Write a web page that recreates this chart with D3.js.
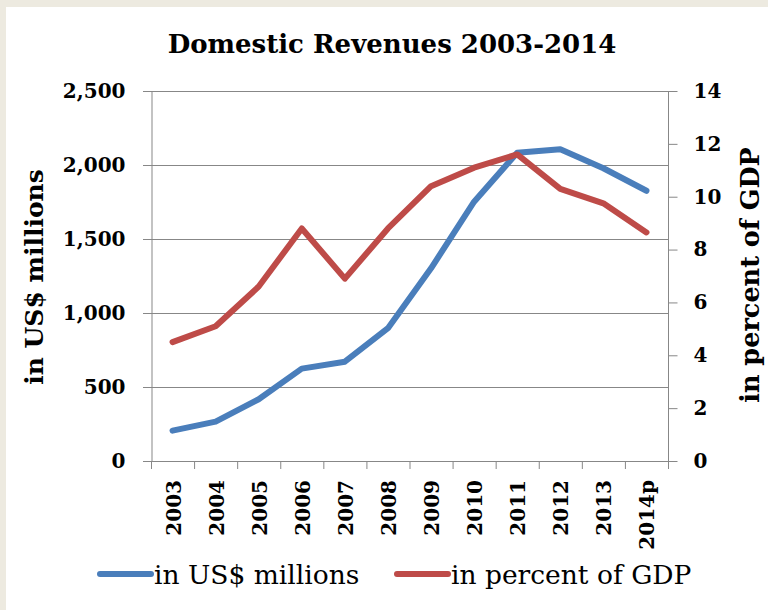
<!DOCTYPE html>
<html>
<head>
<meta charset="utf-8">
<script src="https://cdn.jsdelivr.net/npm/d3@7/dist/d3.min.js"></script>
<style>
  body { margin: 0; background: #fff; }
  svg text { font-family: "DejaVu Serif", serif; fill: #000; }
</style>
</head>
<body>
<script>
'use strict';

// data
const years = ["2003", "2004", "2005", "2006", "2007", "2008", "2009", "2010", "2011", "2012", "2013", "2014p"];
const revenueUSD = [205, 266, 417, 624, 671, 897, 1302, 1752, 2083, 2106, 1978, 1826];
const revenuePctGDP = [4.5, 5.1, 6.6, 8.8, 6.9, 8.8, 10.4, 11.1, 11.6, 10.3, 9.75, 8.65];
const leftTicks = [0, 500, 1000, 1500, 2000, 2500];
const rightTicks = [0, 2, 4, 6, 8, 10, 12, 14];
const seriesNames = ["in US$ millions", "in percent of GDP"];

(function() {

  const width = 768, height = 610;
  const plotLeft = 151, plotRight = 668, plotTop = 91, plotBottom = 461;
  const blue = "#4a7ebb", red = "#be4b48", grid = "#878787";

  const svg = d3.select('body')
    .append('svg')
    .attr('width', width)
    .attr('height', height);

  // beige frame on the top and left like the screenshot
  svg.append('rect').attr('width', width).attr('height', height).attr('fill', '#edeae0');
  svg.append('rect').attr('x', 6).attr('y', 7).attr('width', width).attr('height', height).attr('fill', '#fff');

  // scales
  const x = d3.scaleBand().domain(years).range([plotLeft, plotRight]);
  const yLeft = d3.scaleLinear().domain([0, 2500]).range([plotBottom, plotTop]);
  const yRight = d3.scaleLinear().domain([0, 14]).range([plotBottom, plotTop]);
  const cx = (d) => x(d) + x.bandwidth() / 2;

  // horizontal gridlines from the left axis
  svg.append('g')
    .selectAll('line')
    .data(leftTicks)
    .enter()
    .append('line')
      .attr('x1', plotLeft - 8)
      .attr('x2', plotRight)
      .attr('y1', (d) => yLeft(d) + 0.5)
      .attr('y2', (d) => yLeft(d) + 0.5)
      .attr('stroke', grid)
      .attr('stroke-width', 1);

  // left axis
  const leftAxis = d3.axisLeft(yLeft)
    .tickValues(leftTicks)
    .tickFormat(d3.format(','))
    .tickSize(0)
    .tickPadding(26);
  const gl = svg.append('g')
    .attr('transform', `translate(${plotLeft + 0.5}, 0)`)
    .call(leftAxis);
  gl.select('.domain').attr('stroke', grid);
  gl.selectAll('text')
    .style('font-size', '20px')
    .style('font-weight', 'bold');

  // right axis
  const rightAxis = d3.axisRight(yRight)
    .tickValues(rightTicks)
    .tickSize(9)
    .tickPadding(16);
  const gr = svg.append('g')
    .attr('transform', `translate(${plotRight + 0.5}, 0)`)
    .call(rightAxis);
  gr.select('.domain').attr('stroke', grid).attr('d', `M0,${plotTop}V${plotBottom}`);
  gr.selectAll('.tick line').attr('stroke', grid);
  gr.selectAll('text')
    .style('font-size', '20px')
    .style('font-weight', 'bold');

  // x axis: ticks between categories, labels rotated
  svg.append('line')
    .attr('x1', plotLeft - 8).attr('x2', plotRight)
    .attr('y1', plotBottom + 0.5).attr('y2', plotBottom + 0.5)
    .attr('stroke', grid);
  const edges = years.map((d) => x(d)).concat([plotRight]);
  svg.append('g')
    .selectAll('line')
    .data(edges)
    .enter()
    .append('line')
      .attr('x1', (d) => d + 0.5)
      .attr('x2', (d) => d + 0.5)
      .attr('y1', plotBottom)
      .attr('y2', plotBottom + 8)
      .attr('stroke', grid);

  svg.append('g')
    .selectAll('text')
    .data(years)
    .enter()
    .append('text')
      .attr('transform', (d) => `translate(${cx(d) + 8}, 480) rotate(-90)`)
      .attr('text-anchor', 'end')
      .style('font-size', '20px')
      .style('font-weight', 'bold')
      .text((d) => d);

  // lines
  const lineLeft = d3.line()
    .x((d, i) => cx(years[i]))
    .y((d) => yLeft(d));
  const lineRight = d3.line()
    .x((d, i) => cx(years[i]))
    .y((d) => yRight(d));

  svg.append('path')
    .datum(revenueUSD)
    .attr('d', lineLeft)
    .attr('fill', 'none')
    .attr('stroke', blue)
    .attr('stroke-width', 6)
    .attr('stroke-linejoin', 'round')
    .attr('stroke-linecap', 'round');

  svg.append('path')
    .datum(revenuePctGDP)
    .attr('d', lineRight)
    .attr('fill', 'none')
    .attr('stroke', red)
    .attr('stroke-width', 6)
    .attr('stroke-linejoin', 'round')
    .attr('stroke-linecap', 'round');

  // title
  svg.append('text')
    .attr('x', 392)
    .attr('y', 53)
    .attr('text-anchor', 'middle')
    .style('font-size', '26px')
    .style('font-weight', 'bold')
    .text("Domestic Revenues 2003-2014");

  // axis titles
  svg.append('text')
    .attr('transform', 'translate(43, 277) rotate(-90)')
    .attr('text-anchor', 'middle')
    .style('font-size', '25px')
    .style('font-weight', 'bold')
    .text("in US$ millions");

  svg.append('text')
    .attr('transform', 'translate(759, 275) rotate(-90)')
    .attr('text-anchor', 'middle')
    .style('font-size', '25.5px')
    .style('font-weight', 'bold')
    .text("in percent of GDP");

  // legend
  const legend = svg.append('g')
    .selectAll('g')
    .data(seriesNames)
    .enter()
    .append('g')
      .attr('transform', (d, i) => `translate(${i === 0 ? 100 : 397}, 574)`);
  legend.append('line')
    .attr('x1', 0).attr('x2', 51)
    .attr('stroke', (d, i) => i === 0 ? blue : red)
    .attr('stroke-width', 6)
    .attr('stroke-linecap', 'round');
  legend.append('text')
    .attr('x', 54)
    .attr('y', 10)
    .style('font-size', '26.5px')
    .text((d) => d);

})();
</script>
</body>
</html>
